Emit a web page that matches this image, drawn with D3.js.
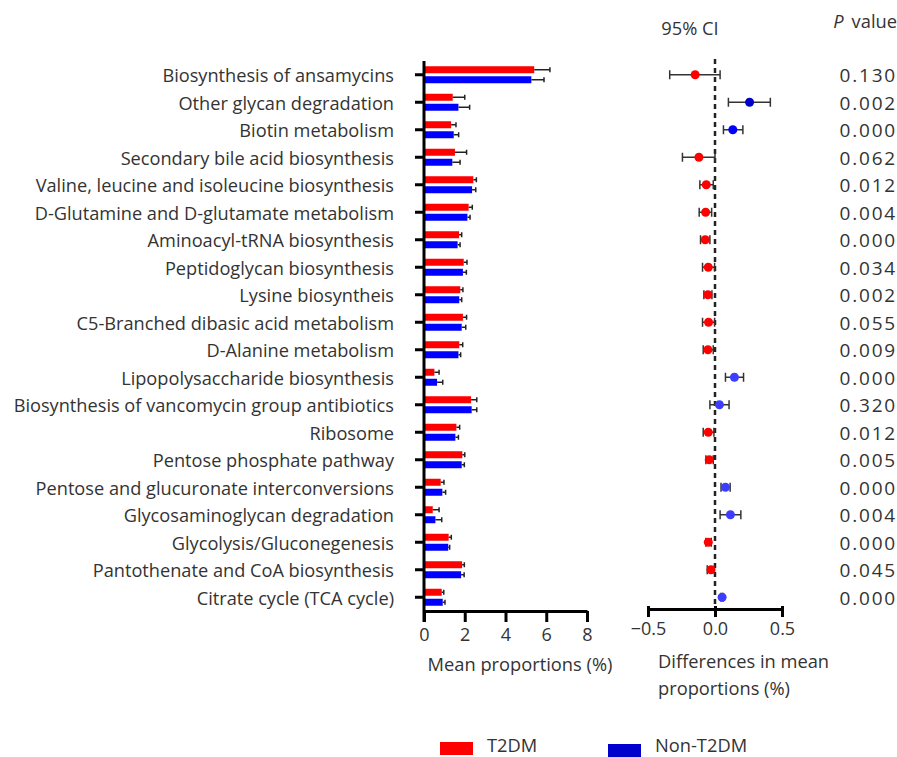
<!DOCTYPE html>
<html>
<head>
<meta charset="utf-8">
<script src="https://cdn.jsdelivr.net/npm/d3@7"></script>
<style>
body { margin: 0; background: #fff; }
svg text { font-family: "Open Sans", sans-serif; fill: #333; }
</style>
</head>
<body>
<div id="chart"></div>
<script>
var svgWidth = 897;
var svgHeight = 757;

// data
var pathways = [
  "Biosynthesis of ansamycins",
  "Other glycan degradation",
  "Biotin metabolism",
  "Secondary bile acid biosynthesis",
  "Valine, leucine and isoleucine biosynthesis",
  "D-Glutamine and D-glutamate metabolism",
  "Aminoacyl-tRNA biosynthesis",
  "Peptidoglycan biosynthesis",
  "Lysine biosyntheis",
  "C5-Branched dibasic acid metabolism",
  "D-Alanine metabolism",
  "Lipopolysaccharide biosynthesis",
  "Biosynthesis of vancomycin group antibiotics",
  "Ribosome",
  "Pentose phosphate pathway",
  "Pentose and glucuronate interconversions",
  "Glycosaminoglycan degradation",
  "Glycolysis/Gluconegenesis",
  "Pantothenate and CoA biosynthesis",
  "Citrate cycle (TCA cycle)"
];
var t2dmMean = [5.41, 1.41, 1.33, 1.52, 2.42, 2.19, 1.72, 1.95, 1.78, 1.91, 1.73, 0.51, 2.31, 1.59, 1.88, 0.82, 0.43, 1.21, 1.87, 0.87];
var t2dmErr  = [0.77, 0.59, 0.24, 0.57, 0.15, 0.18, 0.13, 0.16, 0.13, 0.18, 0.17, 0.23, 0.28, 0.16, 0.12, 0.16, 0.31, 0.13, 0.11, 0.10];
var nonMean  = [5.27, 1.69, 1.46, 1.39, 2.36, 2.13, 1.65, 1.91, 1.73, 1.85, 1.69, 0.64, 2.34, 1.54, 1.85, 0.90, 0.56, 1.19, 1.82, 0.92];
var nonErr   = [0.62, 0.55, 0.24, 0.38, 0.18, 0.13, 0.12, 0.17, 0.12, 0.20, 0.11, 0.28, 0.25, 0.15, 0.13, 0.16, 0.31, 0.07, 0.15, 0.11];
var diffMean = [-0.148, 0.258, 0.133, -0.120, -0.065, -0.070, -0.073, -0.050, -0.053, -0.048, -0.053, 0.145, 0.033, -0.050, -0.043, 0.078, 0.115, -0.050, -0.030, 0.053];
var ciLow    = [-0.338, 0.100, 0.063, -0.243, -0.113, -0.118, -0.108, -0.093, -0.083, -0.093, -0.088, 0.078, -0.038, -0.088, -0.068, 0.045, 0.038, -0.068, -0.058, 0.045];
var ciHigh   = [0.038, 0.413, 0.208, 0.000, -0.013, -0.025, -0.038, -0.003, -0.023, -0.003, -0.013, 0.213, 0.105, -0.008, -0.013, 0.113, 0.193, -0.028, -0.005, 0.060];
var pValues  = ["0.130", "0.002", "0.000", "0.062", "0.012", "0.004", "0.000", "0.034", "0.002", "0.055", "0.009", "0.000", "0.320", "0.012", "0.005", "0.000", "0.004", "0.000", "0.045", "0.000"];
var barTicks = [0, 2, 4, 6, 8];
var diffTicks = [-0.5, 0, 0.5];
var groups = ["T2DM", "Non-T2DM"];

var red = "#ff0000";
var blue = "#0000ff";
var legendBlue = "#0000cc";
// shade of the blue dots differs a bit in the figure
var dotBlueShade = {1: "#0000cc", 2: "#0000ff"};
var fontSize = "18.3px";

var rows = pathways.map(function(p, i) {
  return {
    name: p,
    t2dm: t2dmMean[i], t2dmErr: t2dmErr[i],
    non: nonMean[i], nonErr: nonErr[i],
    diff: diffMean[i], lo: ciLow[i], hi: ciHigh[i],
    p: pValues[i], idx: i
  };
});

var svg = d3.select("#chart")
  .append("svg")
  .attr("width", svgWidth)
  .attr("height", svgHeight);

var plotTop = 61, plotBottom = 611;

var yScale = d3.scaleBand()
  .domain(pathways)
  .range([plotTop, plotBottom]);
var yc = function(d) { return yScale(d) + yScale.bandwidth() / 2; };

// ---------- bar panel ----------
var xBar = d3.scaleLinear().domain([0, 8]).range([424, 587]);

var barGroup = svg.append("g");

barGroup.selectAll(".bar-red")
  .data(rows)
  .enter()
  .append("rect")
  .attr("x", xBar(0))
  .attr("y", d => yc(d.name) - 8.5)
  .attr("width", d => xBar(d.t2dm) - xBar(0))
  .attr("height", 7)
  .attr("fill", red);

barGroup.selectAll(".bar-blue")
  .data(rows)
  .enter()
  .append("rect")
  .attr("x", xBar(0))
  .attr("y", d => yc(d.name) + 1.5)
  .attr("width", d => xBar(d.non) - xBar(0))
  .attr("height", 7)
  .attr("fill", blue);

// error bars
function drawErr(g, key, errKey, dy) {
  var eg = g.selectAll(null)
    .data(rows)
    .enter()
    .append("g")
    .attr("stroke", "#222")
    .attr("stroke-width", 1.5);
  eg.append("line")
    .attr("x1", d => xBar(d[key]))
    .attr("x2", d => xBar(d[key] + d[errKey]))
    .attr("y1", d => yc(d.name) + dy)
    .attr("y2", d => yc(d.name) + dy);
  eg.append("line")
    .attr("x1", d => xBar(d[key] + d[errKey]))
    .attr("x2", d => xBar(d[key] + d[errKey]))
    .attr("y1", d => yc(d.name) + dy - 2.5)
    .attr("y2", d => yc(d.name) + dy + 2.5);
}
drawErr(barGroup, "t2dm", "t2dmErr", -5);
drawErr(barGroup, "non", "nonErr", 5);

// left axis with category labels
var leftAxis = d3.axisLeft(yScale).tickSizeInner(9).tickSizeOuter(0).tickPadding(21);
var yAxis = barGroup.append("g")
  .attr("transform", `translate(${xBar(0)},0)`)
  .call(leftAxis);
yAxis.select(".domain").attr("stroke", "#000").attr("stroke-width", 3)
  .attr("d", `M0,${plotTop}V${plotBottom + 11}`);
yAxis.selectAll(".tick line").attr("stroke", "#000").attr("stroke-width", 3);
yAxis.selectAll(".tick text")
  .style("font-size", "18.2px")
  .attr("dy", "0.4em")
  .attr("fill", "#333");

// bottom axis
var bottomAxis = d3.axisBottom(xBar).tickValues(barTicks).tickSizeInner(11).tickSizeOuter(0).tickPadding(6);
var xAxis = barGroup.append("g")
  .attr("transform", `translate(0,${plotBottom})`)
  .call(bottomAxis);
xAxis.select(".domain").attr("stroke", "#000").attr("stroke-width", 3);
xAxis.selectAll(".tick line").attr("stroke", "#000").attr("stroke-width", 3);
xAxis.selectAll(".tick text").style("font-size", "18px").attr("fill", "#333");

barGroup.append("text")
  .attr("x", 520)
  .attr("y", 671)
  .attr("text-anchor", "middle")
  .style("font-size", fontSize)
  .text("Mean proportions (%)");

// ---------- difference panel ----------
var xDiff = d3.scaleLinear().domain([-0.5, 0.5]).range([648, 782]);
var diffGroup = svg.append("g");

diffGroup.append("line")
  .attr("x1", xDiff(0)).attr("x2", xDiff(0))
  .attr("y1", 59).attr("y2", plotBottom)
  .attr("stroke", "#222")
  .attr("stroke-width", 2.5)
  .attr("stroke-dasharray", "5,4");

var ci = diffGroup.selectAll(null)
  .data(rows)
  .enter()
  .append("g")
  .attr("stroke", "#333")
  .attr("stroke-width", 1.5);
ci.append("line")
  .attr("x1", d => xDiff(d.lo)).attr("x2", d => xDiff(d.hi))
  .attr("y1", d => yc(d.name)).attr("y2", d => yc(d.name));
ci.append("line")
  .attr("x1", d => xDiff(d.lo)).attr("x2", d => xDiff(d.lo))
  .attr("y1", d => yc(d.name) - 4.5).attr("y2", d => yc(d.name) + 4.5);
ci.append("line")
  .attr("x1", d => xDiff(d.hi)).attr("x2", d => xDiff(d.hi))
  .attr("y1", d => yc(d.name) - 4.5).attr("y2", d => yc(d.name) + 4.5);

diffGroup.selectAll("circle")
  .data(rows)
  .enter()
  .append("circle")
  .attr("cx", d => xDiff(d.diff))
  .attr("cy", d => yc(d.name))
  .attr("r", 4.5)
  .attr("fill", d => d.diff < 0 ? red : (dotBlueShade[d.idx] || "#3d3dff"));

var diffAxis = d3.axisBottom(xDiff).tickValues(diffTicks).tickSizeInner(8).tickSizeOuter(0).tickPadding(5)
  .tickFormat(d => d3.format(".1f")(d).replace("-", "\u2212"));
var dAxis = diffGroup.append("g")
  .attr("transform", `translate(0,${plotBottom - 2})`)
  .call(diffAxis);
dAxis.select(".domain").attr("stroke", "#000").attr("stroke-width", 3);
dAxis.selectAll(".tick line").attr("stroke", "#000").attr("stroke-width", 3).attr("y1", -3);
dAxis.selectAll(".tick text").style("font-size", "18px").attr("fill", "#333");

diffGroup.append("text")
  .attr("x", 658).attr("y", 668)
  .style("font-size", fontSize)
  .text("Differences in mean");
diffGroup.append("text")
  .attr("x", 658).attr("y", 695)
  .style("font-size", fontSize)
  .text("proportions (%)");

diffGroup.append("text")
  .attr("x", 690).attr("y", 35)
  .attr("text-anchor", "middle")
  .style("font-size", fontSize)
  .text("95% CI");

// p values
var pText = svg.append("text")
  .attr("x", 897).attr("y", 28)
  .attr("text-anchor", "end")
  .style("font-size", fontSize);
pText.append("tspan").style("font-style", "italic").text("P");
pText.append("tspan").attr("dx", 8).text("value");

svg.selectAll(".pval")
  .data(rows)
  .enter()
  .append("text")
  .attr("class", "pval")
  .attr("x", 897)
  .attr("y", d => yc(d.name))
  .attr("dy", "0.4em")
  .attr("text-anchor", "end")
  .style("font-size", "19px")
  .style("letter-spacing", "1.8px")
  .text(d => d.p);

// legend
var legendColors = [red, legendBlue];
var legendX = [440, 608];
var legend = svg.selectAll(".legend")
  .data(groups)
  .enter()
  .append("g")
  .attr("transform", (d, i) => `translate(${legendX[i]},${742 + i * 2})`);
legend.append("rect")
  .attr("width", 33).attr("height", 13)
  .attr("fill", (d, i) => legendColors[i]);
legend.append("text")
  .attr("x", 47)
  .attr("y", (d, i) => 4 - i * 2)
  .attr("dy", "0.35em")
  .style("font-size", fontSize)
  .text(d => d);
</script>
</body>
</html>
